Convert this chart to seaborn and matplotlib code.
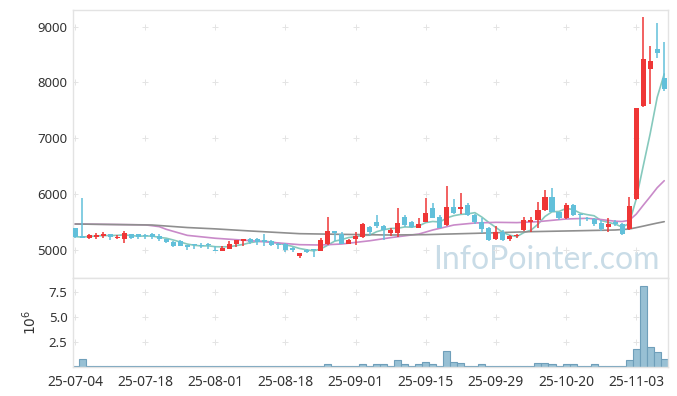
import matplotlib
matplotlib.use("Agg")
import matplotlib.pyplot as plt
import numpy as np
import pandas as pd
import seaborn as sns

# daily candles (trading-day index 0..84)
opens = [5390, 5250, 5220, 5233, 5257, 5286, 5221, 5197, 5286, 5286,
         5268, 5280, 5251, 5197, 5149, 5161, 5089, 5101, 5089, 5101,
         5000, 4988, 5018, 5107, 5161, 5197, 5197, 5179, 5161, 5101,
         5101, 5042, 4898, 5006, 5018, 4988, 5101, 5340, 5286, 5113,
         5203, 5227, 5412, 5501, 5430, 5310, 5310, 5597, 5495, 5400,
         5507, 5758, 5597, 5447, 5770, 5740, 5806, 5626, 5507, 5400,
         5197, 5328, 5191, 5244, 5358, 5495, 5537, 5716, 5943, 5674,
         5567, 5805, 5638, 5578, 5549, 5485, 5415, 5507, 5465, 5370,
         5912, 7583, 8240, 8598, 8085]
highs = [5400, 5925, 5290, 5310, 5316, 5290, 5268, 5340, 5290, 5290,
         5280, 5310, 5286, 5200, 5155, 5170, 5095, 5105, 5120, 5131,
         5071, 5077, 5167, 5180, 5200, 5220, 5220, 5280, 5179, 5120,
         5120, 5060, 4950, 5012, 5025, 5220, 5585, 5345, 5328, 5197,
         5328, 5477, 5430, 5626, 5447, 5388, 5746, 5626, 5519, 5579,
         5925, 5835, 5626, 6146, 5913, 6020, 5835, 5640, 5567, 5410,
         5435, 5358, 5268, 5286, 5585, 5597, 5853, 6074, 6116, 5680,
         5835, 5815, 5645, 5595, 5580, 5537, 5579, 5530, 5490, 5943,
         7548, 9177, 8652, 9057, 8729]
lows = [5220, 5210, 5197, 5197, 5209, 5180, 5197, 5131, 5200, 5197,
        5197, 5197, 5167, 5120, 5060, 5065, 5000, 5018, 5030, 5018,
        4982, 4982, 5012, 5060, 5071, 5113, 5089, 5077, 5071, 5018,
        4970, 4970, 4850, 4940, 4880, 4982, 5089, 5161, 5101, 5101,
        5089, 5215, 5268, 5388, 5179, 5257, 5233, 5406, 5388, 5388,
        5495, 5567, 5388, 5435, 5638, 5650, 5614, 5459, 5298, 5161,
        5185, 5161, 5161, 5209, 5346, 5328, 5388, 5704, 5674, 5537,
        5555, 5608, 5429, 5519, 5430, 5346, 5316, 5430, 5268, 5358,
        5900, 7566, 7607, 8431, 7852]
closes = [5240, 5220, 5268, 5274, 5292, 5239, 5239, 5310, 5209, 5239,
          5251, 5239, 5191, 5137, 5077, 5071, 5054, 5083, 5077, 5089,
          4990, 5042, 5101, 5173, 5197, 5149, 5137, 5137, 5089, 5089,
          5006, 5006, 4946, 4970, 4994, 5173, 5340, 5310, 5113, 5179,
          5244, 5459, 5328, 5430, 5352, 5358, 5477, 5447, 5406, 5465,
          5656, 5579, 5400, 5770, 5668, 5770, 5626, 5507, 5376, 5179,
          5328, 5179, 5250, 5268, 5537, 5537, 5716, 5943, 5686, 5567,
          5805, 5626, 5620, 5549, 5465, 5380, 5462, 5465, 5280, 5787,
          7548, 8419, 8383, 8532, 7876]
# volume, millions of shares
volume_m = [0.10, 0.77, 0.10, 0.02, 0.02, 0.02, 0.02, 0.10, 0.02, 0.02,
            0.02, 0.02, 0.02, 0.02, 0.02, 0.02, 0.02, 0.02, 0.02, 0.02,
            0.10, 0.02, 0.02, 0.02, 0.02, 0.02, 0.02, 0.02, 0.02, 0.02,
            0.02, 0.02, 0.02, 0.02, 0.02, 0.10, 0.22, 0.10, 0.03, 0.03,
            0.03, 0.22, 0.03, 0.22, 0.22, 0.03, 0.62, 0.22, 0.10, 0.22,
            0.42, 0.22, 0.10, 1.58, 0.42, 0.33, 0.10, 0.10, 0.30, 0.10,
            0.10, 0.10, 0.10, 0.03, 0.10, 0.10, 0.33, 0.33, 0.22, 0.10,
            0.22, 0.22, 0.10, 0.10, 0.22, 0.10, 0.10, 0.10, 0.10, 0.67,
            1.73, 8.07, 2.00, 1.50, 0.77]

# longer moving averages (index, value)
ma20_idx = [0, 10, 12, 13, 16, 20, 25, 28, 32, 35, 38, 42, 45, 49, 51, 54,
            57, 60, 63, 66, 70, 73, 75, 77, 78, 79, 80, 81, 82, 83, 84]
ma20_val = [5465, 5450, 5418, 5370, 5262, 5210, 5167, 5137, 5095, 5089, 5107,
            5165, 5221, 5285, 5358, 5447, 5483, 5495, 5490, 5507, 5555, 5567,
            5545, 5515, 5510, 5530, 5640, 5800, 5955, 6115, 6240]
ma120_idx = [0, 11, 16, 20, 25, 32, 38, 45, 50, 57, 65, 72, 77, 79, 80, 81, 82, 83, 84]
ma120_val = [5465, 5447, 5402, 5378, 5340, 5292, 5280, 5268, 5275, 5298, 5328,
             5345, 5358, 5375, 5400, 5427, 5455, 5482, 5507]

tick_pos = [0, 10, 20, 30, 40, 50, 60, 70, 80]
tick_labels = ['25-07-04', '25-07-18', '25-08-01', '25-08-18', '25-09-01',
               '25-09-15', '25-09-29', '25-10-20', '25-11-03']

RED = '#ef3636'
BLUE = '#62c0da'
GRID = '#e4e4e4'
FRAME = '#e3e3e3'

sns.set_style('white')
plt.rcParams['font.family'] = ['Noto Sans', 'DejaVu Sans']

df = pd.DataFrame({'o': opens, 'h': highs, 'l': lows, 'c': closes,
                   'v': np.array(volume_m) * 1e6})
df['x'] = np.arange(len(df))
df['up'] = df['c'] >= df['o']
df['ma5'] = df['c'].rolling(5, min_periods=1).mean()

fig = plt.figure(figsize=(6.77, 3.96), dpi=100)
ax = fig.add_axes([0.1078, 0.2972, 0.8785, 0.6775])
axv = fig.add_axes([0.1078, 0.074, 0.8785, 0.2232], sharex=ax)

# candles
cols = np.where(df['up'], RED, BLUE)
ax.vlines(df['x'], df['l'], df['h'], colors=cols, lw=1.1, zorder=3)
body_lo = np.minimum(df['o'], df['c'])
body_h = np.maximum(np.abs(df['c'] - df['o']), 10)
ax.bar(df['x'], body_h, bottom=body_lo, width=0.72, color=cols, lw=0, zorder=4)

# moving averages
sns.lineplot(x=df['x'], y=df['ma5'], ax=ax, color='#86c9bd', lw=1.2, zorder=2)
sns.lineplot(x=ma20_idx, y=ma20_val, ax=ax, color='#c98ac9', lw=1.2, zorder=2)
sns.lineplot(x=ma120_idx, y=ma120_val, ax=ax, color='#8f8f8f', lw=1.2, zorder=2)

ax.text(0.987, 0.035, 'InfoPointer.com', transform=ax.transAxes, ha='right',
        va='baseline', fontsize=23, color='#c9dce7', family='Lato', zorder=0)

ax.set_xlim(-0.3, 84.5)
ax.set_ylim(4493, 9296)
ax.set_yticks([5000, 6000, 7000, 8000, 9000])
ax.set_ylabel('')
ax.set_xlabel('')

# volume
sns.barplot(x=df['x'], y=df['v'], ax=axv, native_scale=True, width=1.0,
            color='#98c0d4', edgecolor='#6f9fba', linewidth=0.8, saturation=1)
axv.set_ylim(0, 8.84e6)
axv.set_yticks([2.5e6, 5e6, 7.5e6])
axv.set_yticklabels(['2.5', '5.0', '7.5'])
axv.set_ylabel(r'$10^6$', fontsize=10, color='#333333', labelpad=6)
axv.set_xlabel('')
axv.set_xticks(tick_pos)
axv.set_xticklabels(tick_labels)
axv.set_xlim(-0.3, 84.5)

# plus-shaped grid marks at tick crossings
for a, ys in ((ax, [5000, 6000, 7000, 8000, 9000]), (axv, [2.5e6, 5e6, 7.5e6])):
    gx, gy = np.meshgrid(tick_pos, ys)
    a.scatter(gx.ravel(), gy.ravel(), marker='+', s=16, color=GRID, lw=0.7, zorder=1)
    for s in a.spines.values():
        s.set_color(FRAME)
        s.set_linewidth(1.0)
    a.tick_params(length=0, labelsize=9.5, colors='#333333', pad=4)

axv.tick_params(axis='x', labelsize=10, pad=6)
plt.setp(ax.get_xticklabels(), visible=False)

fig.savefig('out.png', dpi=100)
